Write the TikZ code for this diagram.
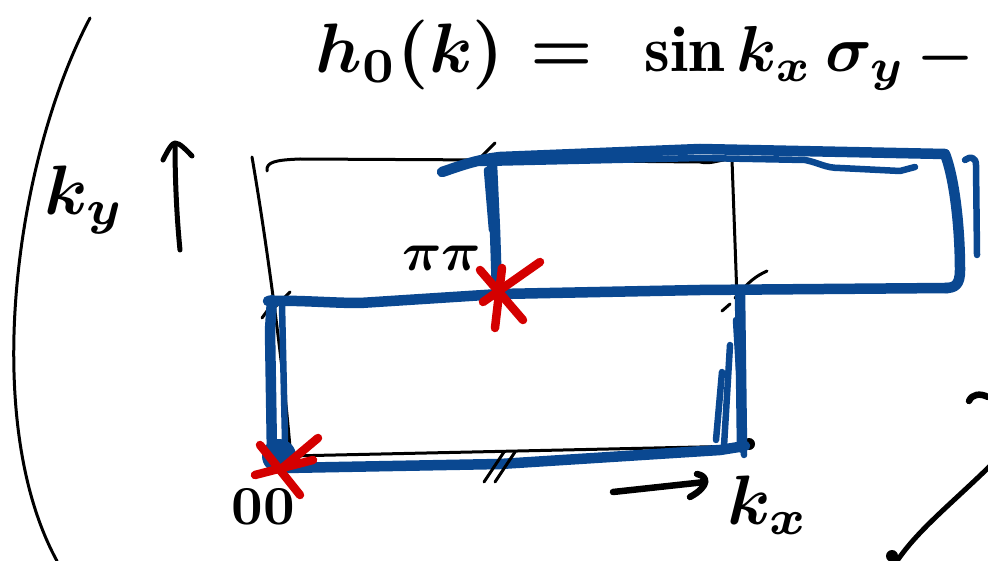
\documentclass[tikz,border=0pt]{standalone}
\usepackage{fontspec}
\definecolor{penblue}{RGB}{10,72,145}
\definecolor{penred}{RGB}{212,0,0}
\tikzset{
  blk/.style={draw=black,line width=3pt,line cap=round,line join=round},
  blkthick/.style={draw=black,line width=6.5pt,line cap=round,line join=round},
  blu/.style={draw=penblue,line width=10.5pt,line cap=round,line join=round},
  bluthin/.style={draw=penblue,line width=6.5pt,line cap=round,line join=round},
  redx/.style={draw=penred,line width=8.5pt,line cap=round},
  hand/.style={inner sep=0pt,text=black,font=\boldmath\bfseries},
}
\begin{document}
\begin{tikzpicture}[x=1pt,y=-1pt]
\useasboundingbox[fill=white] (0,0) rectangle (988,561);
% big left arc
\draw[blk] (90,18) .. controls (15,160) and (-20,420) .. (57,561);
% lower right curve
\draw[blkthick,line width=5pt] (990,466) .. controls (950,505) and (918,530) .. (897,561);
\draw[blkthick] (969,401) .. controls (972,394) and (980,393) .. (988,397);
\fill (892,556) circle (6);
% black grid lines
\draw[blk] (252,157) .. controls (268,250) and (285,380) .. (291,460);
\draw[blk] (267,171) .. controls (266,162) and (275,160) .. (300,159) -- (490,160) -- (700,162) .. controls (712,165) and (722,158) .. (732,160) -- (737,298);
\draw[blk] (290,456) -- (745,446);
\draw[blk] (478,160) -- (495,143);
\draw[blk] (262,318) -- (275,300);
\draw[blk] (276,306) -- (290,292);
\draw[blk] (735,298) .. controls (748,282) and (756,276) .. (767,271);
\draw[blk] (722,311) -- (730,304);
\fill (749,444) circle (6);
% blue strokes: upper right rectangle
\draw[blu] (442,172) .. controls (460,166) and (475,160) .. (500,157) -- (700,149) -- (945,154);
\draw[bluthin] (480,163) -- (700,158) -- (805,160) .. controls (820,163) and (825,168) .. (840,168) -- (900,171) -- (915,167);
\draw[blu] (945,154) .. controls (955,180) and (960,230) .. (960,270) .. controls (960,285) and (955,288) .. (945,288);
\draw[bluthin] (965,160) .. controls (970,156) and (976,157) .. (976,165) -- (977,255);
\draw[blu] (492,165) -- (495,230) -- (497,292);
\draw[bluthin] (487,170) -- (492,230);
% middle horizontal
\draw[blu] (268,301) .. controls (300,300) and (330,303) .. (360,303) -- (500,294) -- (700,290) -- (948,288);
% lower left rectangle
\draw[blu] (272,300) -- (270,330) -- (272,455);
\draw[bluthin] (282,305) -- (285,440);
\draw[blu] (285,468) -- (500,464) -- (720,450) -- (745,446);
\draw[blu] (740,292) -- (742,448);
\draw[bluthin] (722,372) -- (716,440);
\draw[bluthin] (730,345) -- (724,446);
\draw[bluthin] (736,320) -- (744,455);
\fill[penblue] (279,456) circle (17);
% double tick on bottom edge
\draw[blk] (484,482) -- (504,452);
\draw[blk] (495,482) -- (515,452);
% red crosses
\draw[redx] (480,270) -- (523,320);
\draw[redx] (495,328) -- (502,268);
\draw[redx] (483,302) -- (540,262);
\draw[redx] (260,445) -- (300,495);
\draw[redx] (255,475) -- (313,460);
\draw[redx] (280,470) -- (318,438);
% texts
\node[hand,scale=7] (h0) at (410,55) {$h_0(k)$};
\node[hand,scale=7] (eq) at (562,58) {$=$};
\node[hand,scale=6.5] (sin) at (775,58) {$\sin k_x\,\sigma_y$};
\node[hand,scale=6.5] (minus) at (946,58) {$-$};
\node[hand,scale=7] (ky) at (85,200) {$k_y$};
\node[hand,scale=5.5] (pipi) at (442,258) {$\pi\pi$};
\node[hand,scale=5.5] (oo) at (263,507) {$00$};
\node[hand,scale=7] (kx) at (768,505) {$k_x$};
% axis arrows
\coordinate (kyS) at (180,250);
\coordinate (kyE) at (175,145);
\draw[blkthick,line width=5pt] (kyS) .. controls (176,210) and (175,170) .. (kyE);
\draw[blkthick,line width=5pt] (163,160) .. controls (168,150) and (172,143) .. (175,143) .. controls (180,143) and (186,150) .. (192,156);
\coordinate (kxS) at (613,492);
\coordinate (kxE) at (705,482);
\draw[blkthick] (kxS) -- (kxE);
\draw[blkthick] (697,474) .. controls (708,476) and (710,486) .. (690,497);
\end{tikzpicture}
\end{document}
